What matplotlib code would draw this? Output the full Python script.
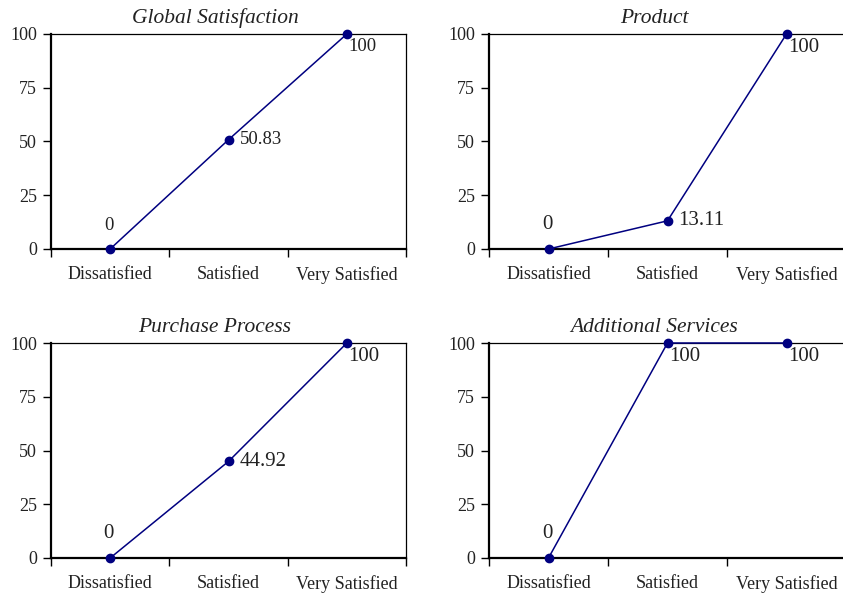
import matplotlib.pyplot as plt
from matplotlib.ticker import FixedLocator, NullFormatter

plt.rcParams['font.family'] = ['Liberation Serif', 'DejaVu Serif']

categories = ['Dissatisfied', 'Satisfied', 'Very Satisfied']
titles = ['Global Satisfaction', 'Product', 'Purchase Process', 'Additional Services']
global_sat = [0, 50.83, 100]
product = [0, 13.11, 100]
purchase = [0, 44.92, 100]
additional = [0, 100, 100]
label_text = [
    ['0', '50.83', '100'],
    ['0', '13.11', '100'],
    ['0', '44.92', '100'],
    ['0', '100', '100'],
]
series = [global_sat, product, purchase, additional]

# axes boxes in figure fractions (left, bottom, width, height)
boxes = [
    (51 / 843, 1 - 249 / 594, 355 / 843, 215 / 594),
    (489 / 843, 1 - 249 / 594, 357 / 843, 215 / 594),
    (51 / 843, 1 - 558 / 594, 355 / 843, 215 / 594),
    (489 / 843, 1 - 558 / 594, 357 / 843, 215 / 594),
]
label_size = [13.5, 15, 15, 15]
navy = '#000080'
txt = '#222222'

fig = plt.figure(figsize=(8.43, 5.94), dpi=100)

for i, vals in enumerate(series):
    ax = fig.add_axes(boxes[i])
    x = [1, 2, 3]
    ax.plot(x, vals, color=navy, lw=1.1, marker='o', ms=6, clip_on=False, zorder=5)
    ax.set_xlim(0.5, 3.5)
    ax.set_ylim(0, 100)
    ax.set_yticks([0, 25, 50, 75, 100])
    ax.tick_params(axis='y', direction='out', length=6, width=1, labelsize=13,
                   labelcolor=txt, pad=4)
    ax.xaxis.set_major_locator(FixedLocator([0.5, 1.5, 2.5, 3.5]))
    ax.xaxis.set_major_formatter(NullFormatter())
    ax.xaxis.set_minor_locator(FixedLocator(x))
    ax.set_xticklabels(categories, minor=True)
    ax.tick_params(axis='x', which='major', direction='out', length=6, width=1)
    ax.tick_params(axis='x', which='minor', length=0, labelsize=13, labelcolor=txt, pad=12)
    for s in ['left', 'bottom']:
        ax.spines[s].set_linewidth(1.6)
    for s in ['top', 'right']:
        ax.spines[s].set_linewidth(0.9)
    ax.set_title(titles[i], style='italic', fontsize=15.5, color=txt, pad=8, x=0.462)

    for j, v in enumerate(vals):
        t = label_text[i][j]
        if j == 0:
            ax.annotate(t, (x[j], v), xytext=(-1, 11), textcoords='offset points',
                        ha='center', va='bottom', fontsize=label_size[i], color=txt,
                        annotation_clip=False)
        elif v >= 100:
            ax.annotate(t, (x[j], v), xytext=(1, -3), textcoords='offset points',
                        ha='left', va='top', fontsize=label_size[i], color=txt,
                        annotation_clip=False)
        else:
            ax.annotate(t, (x[j], v), xytext=(8, 0), textcoords='offset points',
                        ha='left', va='center', fontsize=label_size[i], color=txt,
                        annotation_clip=False)

fig.savefig('out.png', dpi=100)
